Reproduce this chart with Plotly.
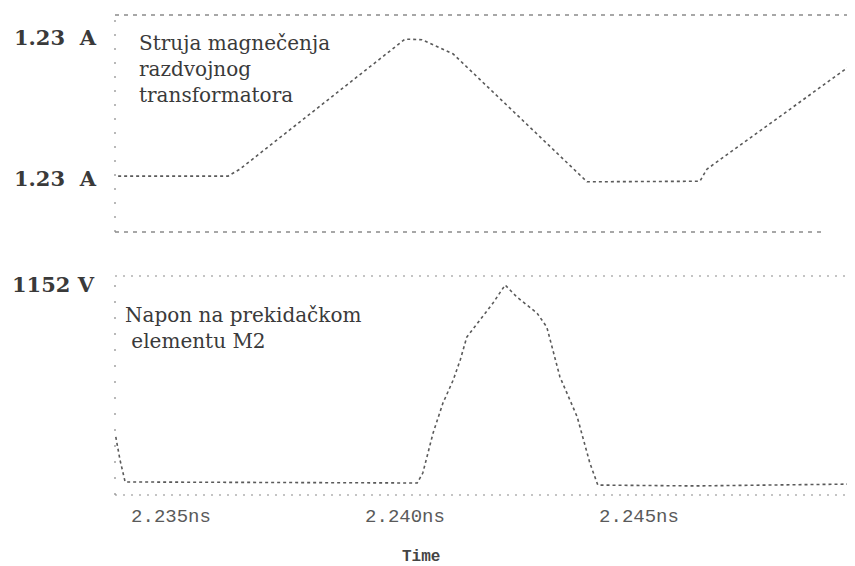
import plotly.graph_objects as go

# ---- data (time in ns) ----
t_current = [2.23387, 2.23622, 2.23647, 2.24000, 2.24036, 2.24103, 2.24389, 2.24630, 2.24645, 2.24957]
i_current = [-1.18, -1.18, -1.06, 1.21, 1.20, 0.95, -1.28, -1.27, -1.06, 0.78]

t_voltage = [2.23382, 2.23391, 2.23402, 2.24026, 2.24038, 2.24047, 2.24060, 2.24081, 2.24103,
             2.24118, 2.24132, 2.24160, 2.24188, 2.24214, 2.24239, 2.24282, 2.24303, 2.24331,
             2.24368, 2.24395, 2.24412, 2.24620, 2.24962]
u_voltage = [268, 134, 6, 0, 58, 151, 291, 465, 599, 716, 849, 948, 1047, 1152, 1082, 989,
             907, 617, 384, 116, -12, -17, -6]

x_tickvals = [2.235, 2.240, 2.245]
x_ticktext = ["2.235ns", "2.240ns", "2.245ns"]
i_tickvals = [1.23, -1.23]
i_ticktext = ["1.23\u00a0\u00a0A", "1.23\u00a0\u00a0A"]
u_tickvals = [1152]
u_ticktext = ["1152\u00a0V"]

label_current = "Struja magnečenja<br>razdvojnog<br>transformatora"
label_voltage = "Napon na prekidačkom<br>\u00a0elementu M2"

curve_color = "#5a5a5a"
frame_color = "#8a8a8a"

fig = go.Figure()
fig.add_trace(go.Scatter(x=t_current, y=i_current, xaxis="x", yaxis="y", mode="lines",
                         line=dict(color=curve_color, width=1.6, dash="dot"), showlegend=False))
fig.add_trace(go.Scatter(x=t_voltage, y=u_voltage, xaxis="x", yaxis="y2", mode="lines",
                         line=dict(color=curve_color, width=1.6, dash="dot"), showlegend=False))

serif_bold = dict(family="DejaVu Serif", size=21, color="#3a3a3a", weight="bold")

# the page body adds an 8px offset; margins compensate so the plot area sits at x 115-855, y 15-495
fig.update_layout(
    width=855, height=566,
    margin=dict(l=107, r=8, t=7, b=79),
    paper_bgcolor="white", plot_bgcolor="white",
    xaxis=dict(range=[2.233803, 2.249615], domain=[0, 1], anchor="y2", automargin=False,
               showgrid=False, zeroline=False, showline=False, ticks="",
               tickvals=x_tickvals, ticktext=x_ticktext, ticklabelstandoff=7,
               tickfont=dict(family="Liberation Mono", size=19, color="#5a5a5a")),
    yaxis=dict(domain=[0.5479, 1], range=[-2.156, 1.631], anchor="x", automargin=False,
               showgrid=False, zeroline=False, showline=False, ticks="",
               tickvals=i_tickvals, ticktext=i_ticktext, ticklabelstandoff=18,
               tickfont=serif_bold),
    yaxis2=dict(domain=[0, 0.45625], range=[-69.8, 1204.4], anchor="x", automargin=False,
                showgrid=False, zeroline=False, showline=False, ticks="",
                tickvals=u_tickvals, ticktext=u_ticktext, ticklabelstandoff=20,
                tickfont=serif_bold),
)

shapes = [
    # top panel frame
    dict(type="line", xref="x domain", yref="y domain", x0=0, x1=1, y0=1, y1=1,
         line=dict(color=frame_color, width=1.3, dash="4px,5px")),
    dict(type="line", xref="x domain", yref="y domain", x0=0, x1=0.96, y0=0, y1=0,
         line=dict(color=frame_color, width=1.3, dash="4px,5px")),
    dict(type="line", xref="x domain", yref="y domain", x0=0, x1=0, y0=0, y1=1,
         line=dict(color=frame_color, width=1.2, dash="2px,12px")),
    # bottom panel frame
    dict(type="line", xref="x domain", yref="y2 domain", x0=0, x1=1, y0=1, y1=1,
         line=dict(color=frame_color, width=1.2, dash="2px,6px")),
    dict(type="line", xref="x domain", yref="y2 domain", x0=0, x1=1, y0=0, y1=0,
         line=dict(color=frame_color, width=1.2, dash="2px,6px")),
    dict(type="line", xref="x domain", yref="y2 domain", x0=0, x1=0, y0=0, y1=1,
         line=dict(color=frame_color, width=1.2, dash="2px,14px")),
]
fig.update_layout(shapes=shapes)

ann_font = dict(family="DejaVu Serif", size=20, color="#3a3a3a")
fig.add_annotation(xref="paper", yref="paper", x=0.0297, y=0.9708, xanchor="left", yanchor="top",
                   text=label_current, showarrow=False, align="left", font=ann_font)
fig.add_annotation(xref="paper", yref="paper", x=0.0108, y=0.404, xanchor="left", yanchor="top",
                   text=label_voltage, showarrow=False, align="left", font=ann_font)
fig.add_annotation(xref="paper", yref="paper", x=0.4135, y=-0.1300, xanchor="center", yanchor="middle",
                   text="Time", showarrow=False,
                   font=dict(family="Liberation Mono", size=16, color="#444444", weight="bold"))

fig.write_html("out.html")
